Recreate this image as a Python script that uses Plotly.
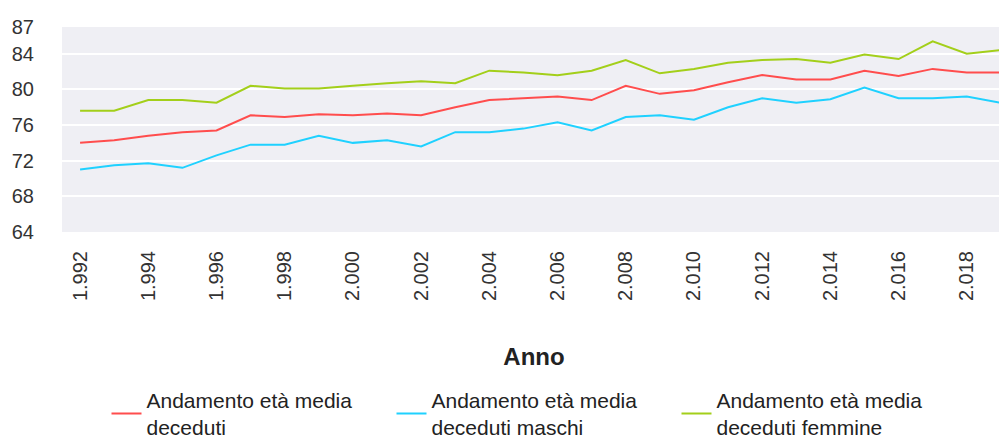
"""Andamento età media deceduti 1992-2019 (Plotly)."""

import plotly.graph_objects as go

anni = list(range(1992, 2020))

eta_deceduti = [74.0, 74.3, 74.8, 75.2, 75.4, 77.1, 76.9, 77.2, 77.1, 77.3,
                77.1, 78.0, 78.8, 79.0, 79.2, 78.8, 80.4, 79.5, 79.9, 80.8,
                81.6, 81.1, 81.1, 82.1, 81.5, 82.3, 81.9, 81.9]
eta_maschi = [71.0, 71.5, 71.7, 71.2, 72.6, 73.8, 73.8, 74.8, 74.0, 74.3,
              73.6, 75.2, 75.2, 75.6, 76.3, 75.4, 76.9, 77.1, 76.6, 78.0,
              79.0, 78.5, 78.9, 80.2, 79.0, 79.0, 79.2, 78.5]
eta_femmine = [77.6, 77.6, 78.8, 78.8, 78.5, 80.4, 80.1, 80.1, 80.4, 80.7,
               80.9, 80.7, 82.1, 81.9, 81.6, 82.1, 83.3, 81.8, 82.3, 83.0,
               83.3, 83.4, 83.0, 83.9, 83.4, 85.4, 84.0, 84.4]

tick_anni = list(range(1992, 2019, 2))
tick_testi = ["1.992", "1.994", "1.996", "1.998", "2.000", "2.002", "2.004",
              "2.006", "2.008", "2.010", "2.012", "2.014", "2.016", "2.018"]
tick_y = [64, 68, 72, 76, 80, 84, 87]

serie = [
    ("Andamento età media<br>deceduti", eta_deceduti, "#ff4d4d"),
    ("Andamento età media<br>deceduti maschi", eta_maschi, "#1fd1ff"),
    ("Andamento età media<br>deceduti femmine", eta_femmine, "#a3cf1a"),
]

fig = go.Figure()
for nome, valori, colore in serie:
    fig.add_trace(go.Scatter(x=anni, y=valori, mode="lines", name=nome,
                             line=dict(color=colore, width=2)))

# the page adds an 8px body margin, so the figure is a bit smaller than the window
font = "Liberation Sans, Arial, sans-serif"
fig.update_layout(
    width=999, height=431,
    margin=dict(l=54, r=1, t=19, b=207, autoexpand=False),
    paper_bgcolor="white", plot_bgcolor="#efeff4",
    font=dict(family=font, size=20, color="#333333"),
    showlegend=True,
    legend=dict(orientation="h", x=0.5, xanchor="center", y=-0.72, yanchor="top",
                entrywidth=240, font=dict(size=21, color="#222222"),
                bgcolor="rgba(0,0,0,0)"),
)
fig.update_xaxes(
    range=[1991.47, 2019.15], tickvals=tick_anni, ticktext=tick_testi,
    tickangle=-90, showgrid=False, zeroline=False, showline=False,
    automargin=False, ticklabelstandoff=14, tickfont=dict(size=20, color="#333333"),
    title=dict(text="<b>Anno</b>", font=dict(size=24, color="#222222"), standoff=48),
)
fig.update_yaxes(
    range=[64, 87], tickvals=tick_y, showgrid=True, gridcolor="white",
    gridwidth=2, zeroline=False, showline=False, ticklabelstandoff=27,
    automargin=False, tickfont=dict(size=20, color="#333333"),
)

fig.write_html("out.html")
